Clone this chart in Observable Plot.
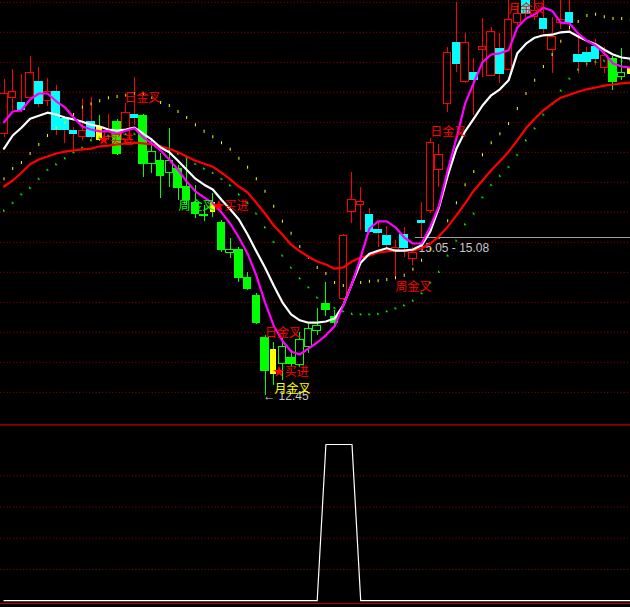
<!DOCTYPE html>
<html><head><meta charset="utf-8">
<script src="https://cdn.jsdelivr.net/npm/d3@7"></script>
<script src="https://cdn.jsdelivr.net/npm/@observablehq/plot@0.6"></script>
<style>
html,body{margin:0;padding:0;background:#000;}
#chart{width:630px;height:607px;overflow:hidden;background:#000;}
#chart svg{display:block;overflow:hidden !important;background:#000;}
</style></head><body><div id="chart"></div>
<script>
// ---- data (prices) ----
const open = [16.81,17.41,17.33,17.41,17.68,17.36,17.51,17.06,16.86,16.76,
  17.01,16.93,16.75,17.01,16.70,17.13,17.10,16.31,16.35,16.16,
  16.23,15.93,15.66,15.44,15.65,15.33,14.83,14.88,14.40,14.11,
  13.41,13.20,12.98,13.08,12.96,13.25,13.53,13.98,13.76,14.06,
  15.50,15.63,15.46,15.21,15.11,14.88,15.13,14.73,15.36,15.53,
  16.21,17.31,18.33,17.68,17.83,18.21,17.78,18.23,17.88,18.66,
  19.03,18.76,18.73,18.21,18.66,18.83,18.13,18.16,18.26,17.90,
  18.06,17.75,17.91];
const close = [17.48,17.51,17.21,17.83,17.31,17.51,16.88,16.88,16.81,16.85,
  16.75,16.71,16.86,16.48,17.16,17.08,16.31,16.51,16.11,16.35,
  15.91,15.70,15.48,15.46,15.50,14.88,14.88,14.40,14.23,13.66,
  12.85,12.81,13.25,12.98,13.38,13.56,13.60,13.88,13.65,15.10,
  15.71,15.68,15.18,15.15,14.96,14.90,14.91,14.83,15.33,16.65,
  16.45,18.16,17.98,18.33,17.70,18.25,18.50,17.81,18.71,18.80,
  18.81,18.86,18.56,18.43,18.71,18.66,18.01,18.01,18.06,18.11,
  17.68,17.83,17.81];
const high = [17.71,17.88,17.80,18.10,17.91,17.73,17.61,17.10,16.91,17.38,
  17.41,17.11,17.13,17.05,17.31,17.75,17.13,16.70,16.48,16.90,
  16.28,16.38,15.95,15.61,15.81,15.36,15.06,14.91,14.50,14.15,
  13.45,13.33,13.40,13.20,13.50,13.63,13.90,14.33,13.86,15.13,
  16.16,15.91,15.56,15.33,15.26,15.03,15.25,14.91,15.66,16.73,
  16.63,18.25,19.00,18.48,18.06,18.73,18.58,18.48,19.05,18.95,
  19.05,19.05,19.05,18.75,19.05,19.05,18.48,18.25,18.38,18.25,
  18.10,18.23,18.11];
const low = [16.75,17.20,17.16,17.36,17.25,17.26,16.78,16.65,16.53,16.70,
  16.70,16.68,16.70,16.45,16.65,16.95,16.08,16.15,15.73,15.91,
  15.70,15.61,15.40,15.35,15.41,14.83,14.73,14.33,14.20,13.63,
  12.45,12.61,12.70,12.91,12.91,13.15,13.45,13.76,13.61,14.03,
  15.31,15.20,15.15,14.91,14.90,14.41,14.75,14.61,15.08,15.48,
  15.91,17.16,17.83,17.65,17.11,17.75,17.76,17.65,17.86,18.61,
  18.75,18.70,18.48,17.81,18.55,18.48,17.81,17.91,17.95,17.81,
  17.53,17.70,17.65];
// candle state: r = up, c = down, g = weak down, h = weak up, y = signal bar
const kinds = [
  "r","r","c","r","c","r","c","c","c","r",
  "c","y","r","g","r","c","g","h","g","h",
  "g","g","g","h","y","g","h","g","g","g",
  "g","y","h","g","h","h","h","g","g","r",
  "r","r","c","c","c","r","c","r","c","r",
  "r","r","c","r","c","r","r","c","r","r",
  "c","r","c","r","r","c","c","c","c","r",
  "g","h","y"];
const maFast = [17.00,17.18,17.20,17.38,17.48,17.48,17.35,17.25,17.08,16.93,
  16.88,16.85,16.85,16.81,16.86,16.90,16.75,16.65,16.53,16.38,
  16.21,16.01,15.85,15.75,15.65,15.50,15.31,15.08,14.81,14.45,
  14.00,13.61,13.36,13.18,13.13,13.23,13.33,13.45,13.60,13.95,
  14.31,14.75,15.23,15.35,15.35,15.25,15.08,14.98,14.98,15.26,
  15.61,16.20,16.73,17.31,17.66,18.00,18.13,18.15,18.20,18.58,
  18.73,18.80,18.91,18.86,18.66,18.65,18.48,18.36,18.28,18.15,
  17.98,17.93,17.91];
const maMid = [16.56,16.78,16.91,17.06,17.11,17.16,17.13,17.08,17.05,17.01,
  16.96,16.93,16.88,16.86,16.88,16.91,16.81,16.71,16.58,16.50,
  16.36,16.21,16.06,15.96,15.88,15.71,15.55,15.38,15.13,14.85,
  14.58,14.28,14.00,13.80,13.70,13.66,13.66,13.68,13.73,13.95,
  14.31,14.66,14.81,14.86,14.90,14.86,14.86,14.88,14.95,15.18,
  15.58,16.11,16.56,16.85,17.06,17.28,17.45,17.55,17.70,18.15,
  18.31,18.41,18.45,18.46,18.50,18.51,18.43,18.36,18.30,18.21,
  18.13,18.08,18.06];
const maSlow = [15.93,16.03,16.16,16.30,16.38,16.43,16.48,16.51,16.53,16.55,
  16.56,16.60,16.61,16.63,16.65,16.66,16.65,16.63,16.60,16.56,
  16.50,16.43,16.36,16.31,16.26,16.16,16.05,15.93,15.83,15.66,
  15.48,15.28,15.13,14.96,14.85,14.76,14.68,14.63,14.56,14.58,
  14.68,14.75,14.78,14.83,14.85,14.86,14.86,14.86,14.90,14.98,
  15.10,15.26,15.45,15.65,15.86,16.03,16.20,16.35,16.51,16.70,
  16.90,17.06,17.20,17.31,17.41,17.46,17.51,17.55,17.58,17.61,
  17.63,17.65,17.66];
const bandUpper = [16.06,16.23,16.33,16.48,16.63,16.78,16.91,17.00,17.13,17.25,
  17.31,17.36,17.41,17.43,17.45,17.48,17.48,17.41,17.33,17.28,
  17.18,17.08,16.96,16.85,16.76,16.66,16.55,16.40,16.25,16.06,
  15.85,15.60,15.35,15.15,14.93,14.75,14.58,14.48,14.33,14.28,
  14.31,14.33,14.35,14.36,14.38,14.41,14.45,14.55,14.70,14.88,
  15.08,15.36,15.66,15.96,16.18,16.46,16.66,16.81,16.98,17.23,
  17.48,17.70,17.93,18.13,18.35,18.58,18.68,18.78,18.80,18.76,
  18.73,18.73,18.71];
const bandLower = [15.53,15.66,15.80,15.91,16.06,16.21,16.30,16.40,16.50,16.58,
  16.70,16.75,16.78,16.80,16.81,16.81,16.78,16.70,16.61,16.53,
  16.48,16.41,16.31,16.23,16.16,16.06,15.95,15.80,15.66,15.48,
  15.25,15.01,14.78,14.58,14.40,14.25,14.08,13.98,13.91,13.85,
  13.81,13.80,13.80,13.81,13.85,13.90,13.95,14.03,14.15,14.33,
  14.51,14.78,15.03,15.30,15.48,15.75,15.96,16.11,16.26,16.46,
  16.70,16.90,17.13,17.31,17.53,17.73,17.88,17.98,18.01,18.03,
  18.03,18.03,18.03];
const signal = [0,0,0,0,0,0,0,0,0,0, 0,0,0,0,0,0,0,0,0,0,
  0,0,0,0,0,0,0,0,0,0, 0,0,0,0,0,0,0,1,1,1,
  1,0,0,0,0,0,0,0,0,0, 0,0,0,0,0,0,0,0,0,0,
  0,0,0,0,0,0,0,0,0,0, 0,0,0];
const gridPrices = [19,18.5,18,17.5,17,16.5,16,15.5,15,14.5,14,13.5,13,12.5];
const gridLower = [0.2,0.4,0.6,0.8];
const signalFrame = [1.125,-0.018];
const labels = [
  {i:13.85, p:17.40, t:"日金叉", c:"#ff0000"},
  {i:10.75, p:16.70, t:"★买进", c:"#ff0000"},
  {i:20.05, p:15.60, t:"周金叉", c:"#00ff00"},
  {i:23.97, p:15.61, t:"★买进", c:"#ff0000"},
  {i:30.00, p:13.48, t:"日金叉", c:"#ff0000"},
  {i:30.90, p:12.83, t:"★买进", c:"#ff0000"},
  {i:31.10, p:12.55, t:"月金叉", c:"#ffff00"},
  {i:45.00, p:14.25, t:"周金叉", c:"#ff0000"},
  {i:49.00, p:16.83, t:"日金叉", c:"#ff0000"},
  {i:58.00, p:18.88, t:"月金叉", c:"#ff0000"}
];
const priceNotes = [
  {i:29.8, p:12.43, t:"← 12.45"},
  {i:47.64, p:14.90, t:"15.05 - 15.08"}
];
const level = {from:47.3, to:72.6, price:15.08};

// ---- build ----
const bars = d3.range(open.length);
const candles = bars.map(i => ({
  i, o: open[i], c: close[i], h: high[i], l: low[i], k: kinds[i],
  top: Math.max(open[i], close[i]), bot: Math.min(open[i], close[i])
}));
const bodyColor = {r:"#ff0000", c:"#00ffff", g:"#00ff00", h:"#00ff00", y:"#ffff00"};
const wickColor = {r:"#ff0000", c:"#ff0000", g:"#00ff00", h:"#00ff00", y:"#00ff00"};
const xDomain = [-0.4023, 72.0115];
const ySym = {draw(ctx){ ctx.rect(-0.5, -1.5, 1, 3); }};
const gSym = {draw(ctx){ ctx.moveTo(-1,-1); ctx.lineTo(0,-1); ctx.lineTo(0,0); ctx.lineTo(1,0); ctx.lineTo(1,1); ctx.lineTo(-1,1); ctx.closePath(); }};
const cjk = "'Noto Sans CJK SC', sans-serif";

const main = Plot.plot({
  width: 630, height: 424,
  marginTop: 0, marginRight: 0, marginBottom: 0, marginLeft: 0,
  x: {domain: xDomain, axis: null},
  y: {domain: [19.03 - 424/60, 19.03], axis: null},
  color: {type: "identity"},
  style: {background: "#000", overflow: "hidden"},
  marks: [
    Plot.ruleY(gridPrices, {stroke: "#a00000", strokeDasharray: "1,2.3"}),
    Plot.text(priceNotes, {x: "i", y: "p", text: "t", fill: "#c8c8c8", textAnchor: "start", fontSize: 12, fontFamily: "'Liberation Sans', 'DejaVu Sans', sans-serif"}),
    Plot.ruleY([level], {x1: "from", x2: "to", y: "price", stroke: "#a0a0a0", strokeWidth: 1.2}),
    Plot.ruleX(candles, {x: "i", y1: "h", y2: "top", stroke: d => wickColor[d.k], shapeRendering: "crispEdges", clip: true}),
    Plot.ruleX(candles, {x: "i", y1: "bot", y2: "l", stroke: d => wickColor[d.k], shapeRendering: "crispEdges", clip: true}),
    Plot.rect(candles.filter(d => "cgy".includes(d.k)), {
      x1: d => d.i - (d.k === "y" ? 0.32 : 0.49), x2: d => d.i + (d.k === "y" ? 0.32 : 0.49),
      y1: "o", y2: "c", fill: d => bodyColor[d.k], insetTop: -0.5, insetBottom: -0.5,
      shapeRendering: "crispEdges", clip: true}),
    Plot.rect(candles.filter(d => "rh".includes(d.k)), {
      x1: d => d.i - 0.43, x2: d => d.i + 0.43,
      y1: "o", y2: "c", fill: "none", stroke: d => bodyColor[d.k], strokeWidth: 1,
      shapeRendering: "crispEdges", clip: true}),
    Plot.dot(bars, {x: i => i, y: i => bandUpper[i], symbol: ySym, r: 1, fill: "#ffff00"}),
    Plot.dot(bars, {x: i => i, y: i => bandLower[i], symbol: gSym, r: 1, fill: "#00ff00"}),
    Plot.line(bars, {x: i => i, y: i => maSlow[i], stroke: "#ff0000", strokeWidth: 2.2}),
    Plot.line(bars, {x: i => i, y: i => maMid[i], stroke: "#ffffff", strokeWidth: 2.2}),
    Plot.line(bars, {x: i => i, y: i => maFast[i], stroke: "#ff00ff", strokeWidth: 2.2}),
    Plot.text(labels, {x: "i", y: "p", text: "t", fill: "c", textAnchor: "start", fontSize: 12, fontFamily: cjk})
  ]
});

const lower = Plot.plot({
  width: 630, height: 183,
  marginTop: 0, marginRight: 0, marginBottom: 0, marginLeft: 0,
  x: {domain: xDomain, axis: null},
  y: {domain: [-0.0435, 1.128], axis: null},
  style: {background: "#000", overflow: "hidden"},
  marks: [
    Plot.ruleY(gridLower, {stroke: "#a00000", strokeDasharray: "1,2.3"}),
    Plot.ruleY(signalFrame, {stroke: "#c00000", strokeWidth: 1.2}),
    Plot.line(bars, {x: i => i, y: i => signal[i], stroke: "#ffffff", strokeWidth: 1.2})
  ]
});

const root = document.getElementById("chart");
root.appendChild(main);
root.appendChild(lower);
</script>
</body></html>
